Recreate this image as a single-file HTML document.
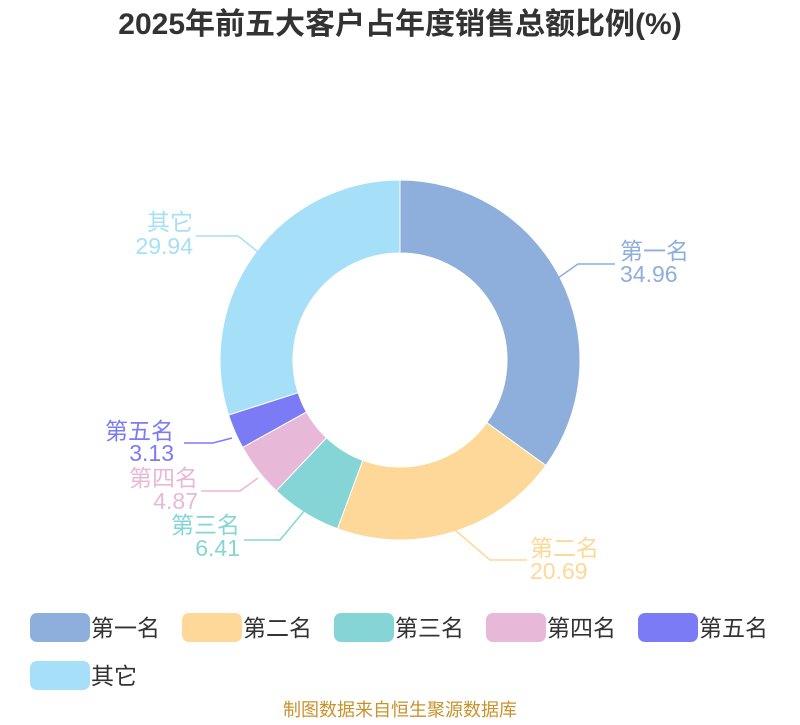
<!DOCTYPE html>
<html><head><meta charset="utf-8"><style>
body{margin:0;background:#fff;width:800px;height:720px;overflow:hidden}
svg text{font-family:"Liberation Sans","Noto Sans CJK SC",sans-serif}
</style></head><body>
<svg id="s" width="800" height="720" xmlns="http://www.w3.org/2000/svg">
<text x="400" y="34" text-anchor="middle" font-size="30" font-weight="bold" fill="#333">2025年前五大客户占年度销售总额比例(%)</text>
<g id="pie"></g>
<g fill="none" stroke-width="1.5">
<polyline points="558,278 578,264 615,264" stroke="#8eaedb"/>
<polyline points="455,530 490,560 527,560" stroke="#fdd899"/>
<polyline points="305,510 280,540 244,540" stroke="#86d5d6"/>
<polyline points="258,478 240,491 201,491" stroke="#e8b8d8"/>
<polyline points="232,438 213,443 184,443" stroke="#7b7cf5"/>
<polyline points="262,255 238,236 196,236" stroke="#a6dff8"/>
</g>
<g font-size="23">
<text x="620" y="259" fill="#8eaedb">第一名</text><text x="620" y="282" fill="#8eaedb">34.96</text>
<text x="530" y="556" fill="#fdd899">第二名</text><text x="530" y="579" fill="#fdd899">20.69</text>
<g text-anchor="end">
<text x="240" y="533" fill="#86d5d6">第三名</text><text x="240" y="556" fill="#86d5d6">6.41</text>
<text x="198" y="486" fill="#e8b8d8">第四名</text><text x="198" y="509" fill="#e8b8d8">4.87</text>
<text x="174" y="439" fill="#7b7cf5">第五名</text><text x="174" y="461" fill="#7b7cf5">3.13</text>
<text x="193" y="230" fill="#a6dff8">其它</text><text x="193" y="254" fill="#a6dff8">29.94</text>
</g>
</g>
<g font-size="23" fill="#333">
<rect x="30" y="613" width="60" height="29" rx="7" fill="#8eaedb"/><text x="91" y="636">第一名</text>
<rect x="182" y="613" width="60" height="29" rx="7" fill="#fdd899"/><text x="243" y="636">第二名</text>
<rect x="334" y="613" width="60" height="29" rx="7" fill="#86d5d6"/><text x="395" y="636">第三名</text>
<rect x="486" y="613" width="60" height="29" rx="7" fill="#e8b8d8"/><text x="547" y="636">第四名</text>
<rect x="638" y="613" width="60" height="29" rx="7" fill="#7b7cf5"/><text x="699" y="636">第五名</text>
<rect x="30" y="661" width="60" height="29" rx="7" fill="#a6dff8"/><text x="91" y="684">其它</text>
</g>
<text x="400" y="716" text-anchor="middle" font-size="18" fill="#c8922c">制图数据来自恒生聚源数据库</text>
</svg>
<script>
var v=[34.96,20.69,6.41,4.87,3.13,29.94],c=["#8eaedb","#fdd899","#86d5d6","#e8b8d8","#7b7cf5","#a6dff8"];
var cx=400,cy=360,R=180,r=107,a=0,g=document.getElementById("pie"),h="";
function p(rad,t){return [cx+rad*Math.sin(t),cy-rad*Math.cos(t)];}
v.forEach(function(x,i){var a0=a/100*2*Math.PI;a+=x;var a1=a/100*2*Math.PI;var l=(a1-a0)>Math.PI?1:0;
var A=p(R,a0),B=p(R,a1),C=p(r,a1),D=p(r,a0);
h+='<path d="M'+A+' A'+R+','+R+' 0 '+l+' 1 '+B+' L'+C+' A'+r+','+r+' 0 '+l+' 0 '+D+' Z" fill="'+c[i]+'" stroke="#fff" stroke-width="1"/>';});
g.innerHTML=h;
</script>
</body></html>
